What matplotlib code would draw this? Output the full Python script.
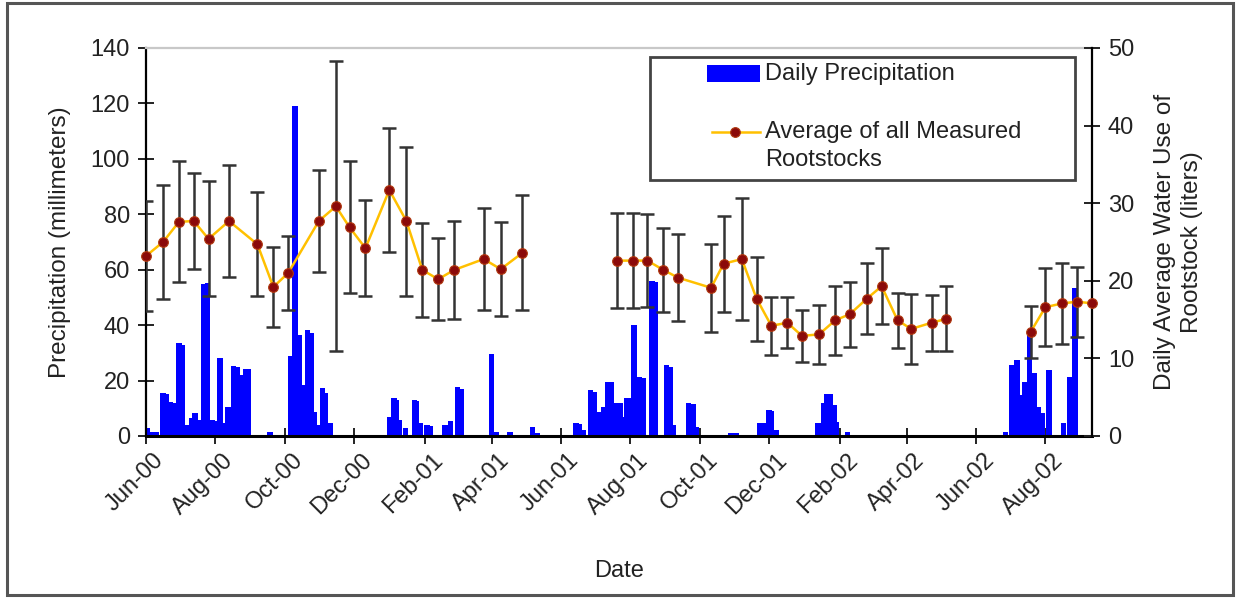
import matplotlib
matplotlib.use('Agg')
import matplotlib.pyplot as plt
import matplotlib.dates as mdates
import matplotlib.transforms as mtransforms
from matplotlib.patches import Rectangle
from matplotlib.lines import Line2D
import numpy as np
import pandas as pd

plt.rcParams['font.family'] = ['Liberation Sans', 'DejaVu Sans']

start = pd.Timestamp('2000-06-01')
end_day = 832

# daily precipitation (days since 1 Jun 2000, mm)
rain_day = [1, 5, 9, 15, 18, 21, 24, 29, 32, 35, 40, 43, 47, 51, 54, 58, 61, 65, 69, 72,
            77, 80, 83, 88, 90, 109, 127, 131, 135, 138, 142, 145, 148, 151, 155, 158, 162,
            214, 218, 220, 223, 228, 236, 238, 241, 247, 250, 263, 268, 274, 277, 304, 308,
            320, 340, 344,
            378, 381, 385, 391, 394, 398, 403, 406, 409, 413, 417, 419, 423, 426, 429, 434,
            437, 445, 448, 458, 461, 464, 477, 481, 484, 514, 519, 540, 543, 548, 550, 554,
            591, 596, 599, 602, 605, 607, 617,
            756, 761, 766, 769, 773, 777, 781, 785, 788, 794, 807, 812, 817]
rain_mm = [2.9, 1.5, 1.5, 15.5, 15.0, 12.3, 12.0, 33.6, 33.0, 4.0, 6.5, 8.3, 5.8, 55.0, 55.2,
           5.8, 5.5, 28.1, 4.7, 10.5,
           25.3, 25.0, 22.0, 24.2, 24.0, 1.5, 28.9, 119.0, 36.4, 18.4, 38.3, 37.0, 8.7, 4.0,
           17.3, 15.5, 4.7,
           6.9, 13.7, 13.0, 5.8, 2.9, 13.0, 12.5, 4.7, 4.0, 3.5, 4.0, 5.4, 17.7, 17.0, 29.6,
           1.4, 1.5, 3.4, 1.0,
           4.7, 4.5, 2.2, 16.6, 16.0, 8.7, 10.5, 19.5, 19.5, 11.9, 11.9, 6.9, 13.7, 13.7,
           40.1, 21.3, 21.0, 56.0, 55.5, 25.6, 25.0, 4.0, 11.9, 11.5, 3.4, 1.0, 1.0, 4.7,
           4.7, 9.4, 9.0, 2.2, 4.7, 11.9, 15.2, 15.0, 11.2, 5.0, 1.4,
           1.5, 25.6, 27.4, 14.8, 19.5, 36.4, 22.7, 10.5, 8.3, 23.8, 4.7, 21.3, 53.4]

# average water use of all rootstocks (days since 1 Jun 2000, liters)
use_day = [0, 15, 29, 42, 55, 73, 98, 112, 125, 152, 167, 179, 193, 214, 229, 243, 257,
           271, 297, 312, 331, 414, 428, 441, 455, 468, 497, 508, 524, 537, 550, 564, 577,
           592, 606, 619, 634, 647, 661, 673, 691, 704, 778, 791, 806, 819, 832]
use_mean = [23.2, 25.0, 27.6, 27.7, 25.4, 27.7, 24.7, 19.2, 21.0, 27.7, 29.6, 26.9, 24.2,
            31.7, 27.7, 21.4, 20.2, 21.4, 22.8, 21.5, 23.6, 22.6, 22.6, 22.6, 21.4, 20.4,
            19.1, 22.2, 22.8, 17.7, 14.2, 14.6, 12.9, 13.1, 14.9, 15.7, 17.7, 19.3, 14.9,
            13.8, 14.6, 15.1, 13.4, 16.6, 17.1, 17.3, 17.1]
use_err = [7.1, 7.4, 7.8, 6.2, 7.4, 7.2, 6.7, 5.1, 4.8, 6.6, 18.7, 8.5, 6.2, 8.0, 9.6, 6.1,
           5.3, 6.3, 6.6, 6.1, 7.4, 6.1, 6.1, 6.0, 5.4, 5.6, 5.7, 6.2, 7.9, 5.4, 3.7, 3.3,
           3.4, 3.8, 4.4, 4.2, 4.6, 4.9, 3.5, 4.5, 3.6, 4.2, 3.4, 5.0, 5.2, 4.5, np.nan]

W, H = 1236, 598
def fx(x):
    return x / W
def fy(y):
    return 1 - y / H

txt = '#222222'
fs = 17
fig = plt.figure(figsize=(W / 100, H / 100), dpi=100)
fig.patches.append(Rectangle((fx(7), fy(595)), fx(1233) - fx(7), fy(3) - fy(595),
                             transform=fig.transFigure, fill=False, ec='#555555', lw=2.2))

ax1 = fig.add_axes([fx(146), fy(436), fx(1092) - fx(146), fy(48) - fy(436)])
ax2 = ax1.twinx()

rain_dates = start + pd.to_timedelta(rain_day, unit='D')
use_dates = start + pd.to_timedelta(use_day, unit='D')

ax1.bar(rain_dates, rain_mm, width=4.8, color='#0000FF', linewidth=0, zorder=2)
ax1.set_ylim(0, 140)
ax1.set_yticks(range(0, 141, 20))
ax1.set_xlim(start, start + pd.Timedelta(days=end_day))
ax1.xaxis.set_major_locator(mdates.MonthLocator(bymonth=[2, 4, 6, 8, 10, 12]))
ax1.xaxis.set_major_formatter(mdates.DateFormatter('%b-%y'))

# error bars, markers and line broken at the measuring gaps
ax2.errorbar(use_dates, use_mean, yerr=use_err, fmt='none', ecolor='#333333',
             elinewidth=1.8, capsize=5, capthick=1.8, zorder=2)
idx = np.arange(len(use_day))
breaks = [0] + [i for i in idx[1:] if use_day[i] - use_day[i - 1] > 45] + [len(use_day)]
for a, b in zip(breaks[:-1], breaks[1:]):
    ax2.plot(use_dates[a:b], use_mean[a:b], color='#FFC000', lw=1.8, zorder=3, clip_on=False)
ax2.plot(use_dates, use_mean, 'o', ms=7, mfc='#8B0A0A', mec='#B03A10', mew=0.8,
         zorder=4, clip_on=False)
ax2.set_ylim(0, 50)
ax2.set_yticks(range(0, 51, 10))

ax1.spines['right'].set_visible(False)
ax1.spines['top'].set_color('#c8c8c8')
ax1.spines['top'].set_linewidth(1.6)
ax1.spines['left'].set_linewidth(1.6)
ax1.spines['bottom'].set_linewidth(2.2)
for s in ['top', 'left', 'bottom']:
    ax2.spines[s].set_visible(False)
ax2.spines['right'].set_linewidth(1.6)

ax1.tick_params(axis='y', direction='inout', length=11, width=1.4, labelsize=fs,
                pad=6, colors=txt)
ax1.tick_params(axis='x', direction='inout', length=11, width=1.4, labelsize=fs,
                pad=4, colors=txt)
ax2.tick_params(axis='y', direction='inout', length=11, width=1.4, labelsize=fs,
                pad=6, colors=txt)
shift = mtransforms.ScaledTranslation(7 / 100, 0, fig.dpi_scale_trans)
for lab in ax1.get_xticklabels():
    lab.set_rotation(45)
    lab.set_ha('right')
    lab.set_va('top')
    lab.set_rotation_mode('anchor')
    lab.set_transform(lab.get_transform() + shift)

ax1.set_ylabel('Precipitation (millimeters)', fontsize=17.5, color=txt, labelpad=14)
ax1.set_xlabel('Date', fontsize=fs, color=txt, labelpad=30)
ax2.set_ylabel('Daily Average Water Use of\nRootstock (liters)', fontsize=17.5,
               color=txt, labelpad=14, linespacing=1.3)

# legend box drawn like the spreadsheet one
fig.patches.append(Rectangle((fx(650), fy(180)), fx(1075) - fx(650), fy(57) - fy(180),
                             transform=fig.transFigure, fc='white', ec='#444444',
                             lw=2, zorder=10))
fig.patches.append(Rectangle((fx(707), fy(82)), fx(760) - fx(707), fy(65) - fy(82),
                             transform=fig.transFigure, fc='#0000FF', lw=0, zorder=11))
fig.lines.append(Line2D([fx(712), fx(760)], [fy(132), fy(132)], transform=fig.transFigure,
                        color='#FFC000', lw=1.8, zorder=11))
fig.lines.append(Line2D([fx(735)], [fy(132)], transform=fig.transFigure, marker='o',
                        ms=7, mfc='#8B0A0A', mec='#B03A10', mew=0.8, zorder=12))
fig.text(fx(765), fy(74), 'Daily Precipitation', fontsize=fs, color=txt,
         va='center', zorder=12)
fig.text(fx(765), fy(132), 'Average of all Measured', fontsize=fs, color=txt,
         va='center', zorder=12)
fig.text(fx(765), fy(160), 'Rootstocks', fontsize=fs, color=txt, va='center', zorder=12)

fig.savefig('out.png', dpi=100)
